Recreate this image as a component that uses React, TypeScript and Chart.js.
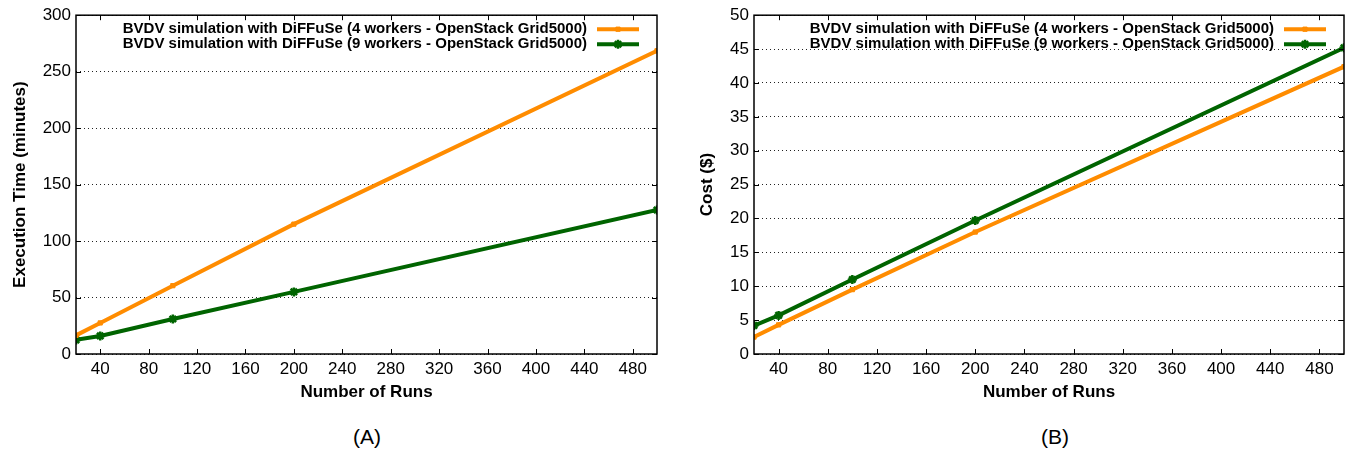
import React, { useEffect, useRef } from 'react';
import { Chart, registerables } from 'chart.js';
import { drawPoint } from 'chart.js/helpers';

Chart.register(...registerables);

// ---- data ----
const runs = [20, 40, 100, 200, 500];
const xTickValues = [40, 80, 120, 160, 200, 240, 280, 320, 360, 400, 440, 480];
const seriesLabels = [
  'BVDV simulation with DiFFuSe (4 workers - OpenStack Grid5000)',
  'BVDV simulation with DiFFuSe (9 workers - OpenStack Grid5000)',
];
const timeWorkers4 = [16.5, 27.5, 60.5, 115, 268.5];
const timeWorkers9 = [12.5, 16, 31, 55, 127.5];
const costWorkers4 = [2.5, 4.3, 9.5, 18, 42.4];
const costWorkers9 = [4.2, 5.7, 11, 19.7, 45.2];
const panelLabels = ['(A)', '(B)'];

const FONT = '"Liberation Sans", Arial, Helvetica, sans-serif';
const ORANGE = '#ff8c00';
const GREEN = '#006400';

const framePlugin = {
  id: 'gnuplotFrame',
  afterDraw(chart: any) {
    const { ctx, chartArea: a, scales } = chart;
    ctx.save();
    ctx.strokeStyle = '#000';
    ctx.lineWidth = 1.5;
    ctx.strokeRect(a.left, a.top, a.right - a.left, a.bottom - a.top);
    ctx.lineWidth = 1;
    const t = 5;
    ctx.beginPath();
    scales.x.ticks.forEach((tk: any) => {
      const px = Math.round(scales.x.getPixelForValue(tk.value)) + 0.5;
      ctx.moveTo(px, a.bottom);
      ctx.lineTo(px, a.bottom - t);
      ctx.moveTo(px, a.top);
      ctx.lineTo(px, a.top + t);
    });
    scales.y.ticks.forEach((tk: any) => {
      const py = Math.round(scales.y.getPixelForValue(tk.value)) + 0.5;
      ctx.moveTo(a.left, py);
      ctx.lineTo(a.left + t, py);
      ctx.moveTo(a.right, py);
      ctx.lineTo(a.right - t, py);
    });
    ctx.stroke();

    // gnuplot-style legend: text right-aligned, sample on the right
    ctx.font = `bold 15px ${FONT}`;
    ctx.textAlign = 'right';
    ctx.textBaseline = 'middle';
    chart.data.datasets.forEach((ds: any, i: number) => {
      const y = a.top + 14 + i * 15;
      const x2 = a.right - 18;
      const x1 = x2 - 42;
      ctx.strokeStyle = ds.borderColor;
      ctx.fillStyle = ds.pointBackgroundColor;
      ctx.lineWidth = ds.borderWidth;
      ctx.beginPath();
      ctx.moveTo(x1, y);
      ctx.lineTo(x2, y);
      ctx.stroke();
      ctx.strokeStyle = ds.pointBorderColor;
      ctx.lineWidth = ds.pointBorderWidth;
      drawPoint(ctx, { pointStyle: ds.pointStyle, radius: ds.pointRadius, borderWidth: ds.pointBorderWidth, rotation: 0 } as any, (x1 + x2) / 2, y);
      ctx.fillStyle = '#000';
      ctx.fillText(ds.label, x1 - 10, y);
    });
    ctx.restore();
  },
};

function makeDatasets(v4: number[], v9: number[]) {
  return [
    {
      label: seriesLabels[0],
      data: runs.map((r, i) => ({ x: r, y: v4[i] })),
      borderColor: ORANGE,
      backgroundColor: ORANGE,
      pointBackgroundColor: ORANGE,
      pointBorderColor: ORANGE,
      borderWidth: 4,
      pointStyle: 'rect',
      pointRadius: 3,
      pointBorderWidth: 1,
      tension: 0,
    },
    {
      label: seriesLabels[1],
      data: runs.map((r, i) => ({ x: r, y: v9[i] })),
      borderColor: GREEN,
      backgroundColor: GREEN,
      pointBackgroundColor: GREEN,
      pointBorderColor: GREEN,
      borderWidth: 4,
      pointStyle: 'star',
      pointRadius: 4.5,
      pointBorderWidth: 2.5,
      tension: 0,
    },
  ];
}

interface PanelProps {
  v4: number[];
  v9: number[];
  yMax: number;
  yStep: number;
  yTitle: string;
  yWidth: number;
  yTitlePad: number;
  rightPad: number;
  width: number;
}

function Panel(p: PanelProps) {
  const ref = useRef<HTMLCanvasElement>(null);
  useEffect(() => {
    if (!ref.current) return;
    const chart = new Chart(ref.current, {
      type: 'line',
      data: { datasets: makeDatasets(p.v4, p.v9) as any },
      options: {
        animation: false,
        responsive: false,
        devicePixelRatio: 1,
        layout: { padding: { top: 14, right: p.rightPad, left: 0, bottom: 0 } },
        plugins: { legend: { display: false }, tooltip: { enabled: false } },
        scales: {
          x: {
            type: 'linear',
            min: 20,
            max: 500,
            afterBuildTicks: (s: any) => {
              s.ticks = xTickValues.map((v) => ({ value: v }));
            },
            afterFit: (s: any) => {
              s.height = 56;
            },
            grid: { display: false, drawTicks: false },
            border: { display: false },
            ticks: { color: '#000', font: { family: FONT, size: 17 }, padding: 5, maxRotation: 0, autoSkip: false },
            title: {
              display: true,
              text: 'Number of Runs',
              color: '#000',
              font: { family: FONT, size: 17, weight: 'bold' },
              padding: { top: 4, bottom: 7 },
            },
          },
          y: {
            min: 0,
            max: p.yMax,
            afterFit: (s: any) => {
              s.width = p.yWidth;
            },
            grid: { color: '#222', lineWidth: 1, drawTicks: false },
            border: { display: false, dash: [1, 3] },
            ticks: { stepSize: p.yStep, color: '#000', font: { family: FONT, size: 17 }, padding: 5 },
            title: {
              display: true,
              text: p.yTitle,
              color: '#000',
              font: { family: FONT, size: 17, weight: 'bold' },
              padding: { top: p.yTitlePad, bottom: 0 },
            },
          },
        },
      },
      plugins: [framePlugin],
    });
    return () => chart.destroy();
  }, []);
  return <canvas ref={ref} width={p.width} height={410} style={{ width: p.width, height: 410, display: 'block' }} />;
}

export default function App() {
  return (
    <div style={{ position: 'absolute', left: 0, top: 0, width: 1353, height: 456, overflow: 'hidden', background: '#fff', fontFamily: FONT }}>
      <div style={{ position: 'absolute', left: 0, top: 0 }}>
        <Panel v4={timeWorkers4} v9={timeWorkers9} yMax={300} yStep={50} yTitle="Execution Time (minutes)" yWidth={76} yTitlePad={10} rightPad={19} width={676} />
      </div>
      <div style={{ position: 'absolute', left: 680, top: 0 }}>
        <Panel v4={costWorkers4} v9={costWorkers9} yMax={50} yStep={5} yTitle="Cost ($)" yWidth={74} yTitlePad={17} rightPad={9} width={673} />
      </div>
      <div style={{ position: 'absolute', left: 267, width: 200, top: 424, textAlign: 'center', fontSize: 21, lineHeight: '26px', color: '#000' }}>{panelLabels[0]}</div>
      <div style={{ position: 'absolute', left: 955, width: 200, top: 424, textAlign: 'center', fontSize: 21, lineHeight: '26px', color: '#000' }}>{panelLabels[1]}</div>
    </div>
  );
}
